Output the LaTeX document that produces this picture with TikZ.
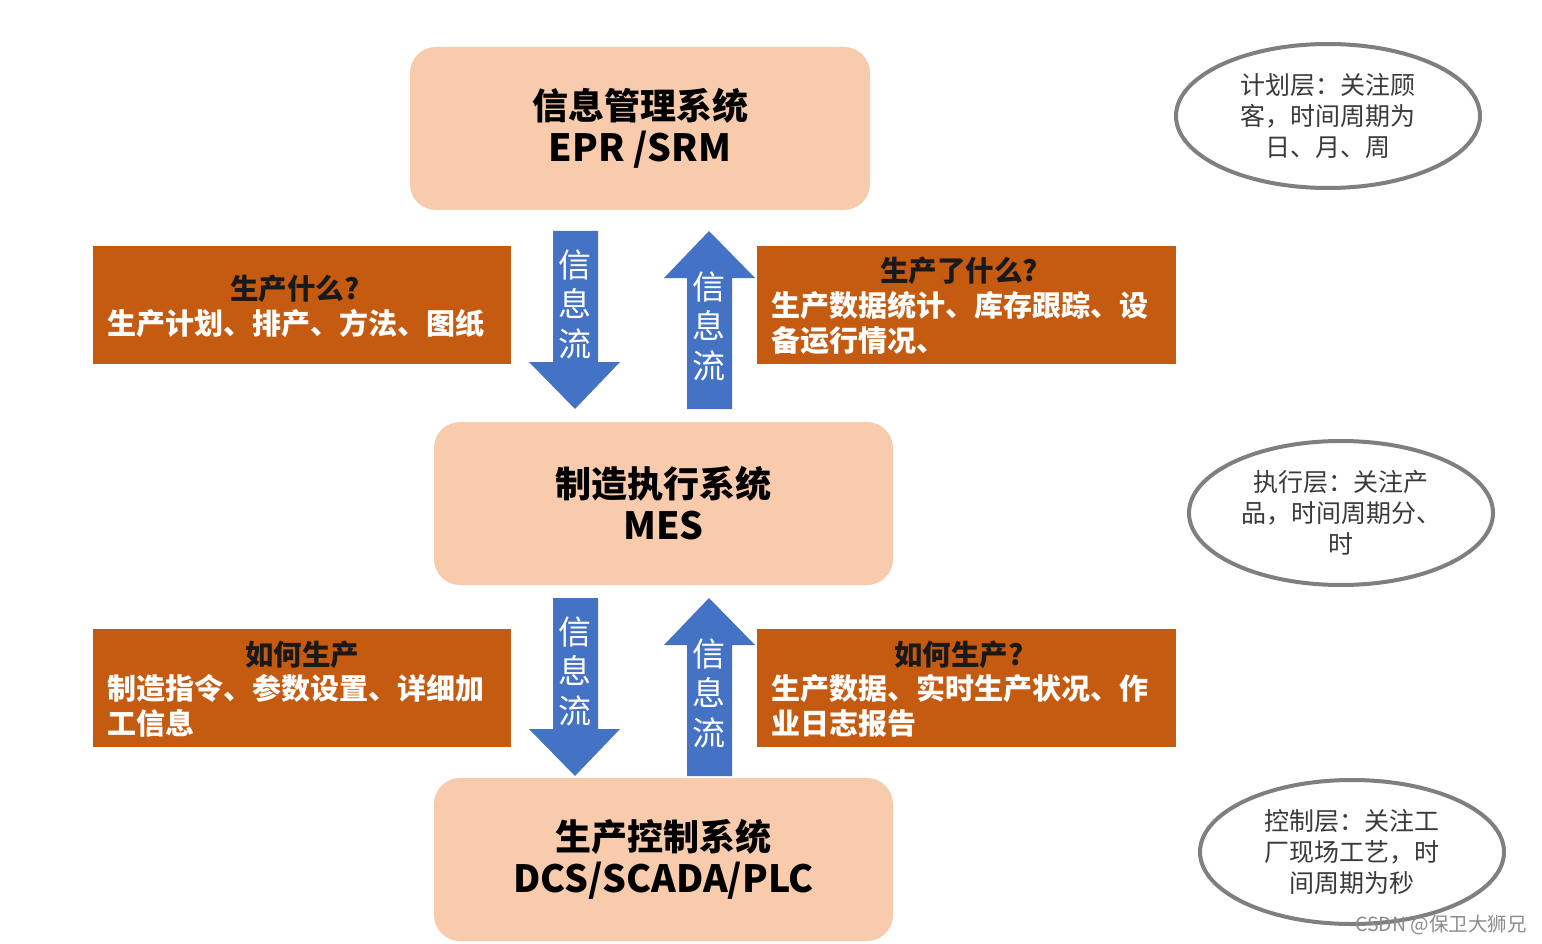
\documentclass[tikz,border=0pt]{standalone}
\usepackage{fontspec}
\setmainfont{Noto Sans CJK SC}
\usetikzlibrary{shapes.geometric}
\definecolor{peach}{HTML}{F8CBAD}
\definecolor{rust}{HTML}{C55A11}
\definecolor{flowblue}{HTML}{4472C4}
\definecolor{ringgray}{HTML}{7F7F7F}
\definecolor{ringtext}{HTML}{3A3A3A}
\newcommand{\latinline}[1]{{\fontsize{37.5}{42}\selectfont #1}}
\begin{document}
\begin{tikzpicture}[x=1pt,y=-1pt,
  sysbox/.style={draw=none,fill=peach,rounded corners=26pt,minimum width=460pt,minimum height=163pt,inner sep=0pt,
    align=center,font=\fontsize{36}{42}\selectfont\bfseries,text=black},
  infobox/.style={draw=none,fill=rust,minimum width=418pt,minimum height=118pt,inner sep=0pt},
  infohead/.style={inner sep=0pt,font=\fontsize{28.5}{35}\selectfont\bfseries,text=black!90,anchor=center},
  infobody/.style={inner sep=0pt,font=\fontsize{29}{35}\selectfont\bfseries,text=white,anchor=west,align=left},
  flowtext/.style={inner sep=0pt,align=center,font=\fontsize{33}{39.5}\selectfont,text=white},
  ring/.style={draw=ringgray,line width=4pt,ellipse,minimum width=304pt,minimum height=144pt,inner sep=0pt,
    align=center,font=\fontsize{25}{31}\selectfont,text=ringtext},
  arrowfill/.style={fill=flowblue,draw=none}
]
\useasboundingbox (0,0) rectangle (1542,944);
\fill[white] (0,0) rectangle (1542,944);

% system boxes
\node[sysbox] (erp) at (640,128.5) {信息管理系统\\\latinline{EPR /SRM}};
\node[sysbox,minimum width=459pt] (mes) at (663.5,503.5) {制造执行系统\\\latinline{MES}};
\node[sysbox,minimum width=459pt] (dcs) at (663.5,859.5) {生产控制系统\\\latinline{DCS/SCADA/PLC}};

% info boxes
\node[infobox] (ql1) at (302,305) {};
\node[infohead] (hl1) at (295,289) {生产什么?};
\node[infobody] (bl1) at (107,323) {生产计划、排产、方法、图纸};

\node[infobox,minimum width=419pt] (qr1) at (966.5,305) {};
\node[infohead] (hr1) at (959,271) {生产了什么?};
\node[infobody] (br1) at (771,323.5) {生产数据统计、库存跟踪、设\\备运行情况、};

\node[infobox] (ql2) at (302,687.5) {};
\node[infohead] (hl2) at (302,655) {如何生产};
\node[infobody] (bl2) at (107,706) {制造指令、参数设置、详细加\\工信息};

\node[infobox,minimum width=419pt] (qr2) at (966.5,687.5) {};
\node[infohead] (hr2) at (959,655) {如何生产?};
\node[infobody] (br2) at (771,706) {生产数据、实时生产状况、作\\业日志报告};

% arrows (upper pair)
\fill[arrowfill] (553,231) -- (598,231) -- (598,362) -- (620,362) -- (575,409) -- (529,362) -- (553,362) -- cycle;
\node[flowtext] (fd1) at (575,304) {信\\息\\流};
\fill[arrowfill] (687,409) -- (732,409) -- (732,278) -- (755,278) -- (709,231) -- (664,278) -- (687,278) -- cycle;
\node[flowtext] (fu1) at (709,326) {信\\息\\流};

% arrows (lower pair)
\fill[arrowfill] (553,598) -- (598,598) -- (598,729) -- (620,729) -- (575,776) -- (529,729) -- (553,729) -- cycle;
\node[flowtext] (fd2) at (575,671) {信\\息\\流};
\fill[arrowfill] (687,776) -- (732,776) -- (732,645) -- (755,645) -- (709,598) -- (664,645) -- (687,645) -- cycle;
\node[flowtext] (fu2) at (709,693) {信\\息\\流};

% layer ellipses
\node[ring] (plan) at (1328,116) {计划层：关注顾\\客，时间周期为\\日、月、周};
\node[ring] (exec) at (1341,513) {执行层：关注产\\品，时间周期分、\\时};
\node[ring] (ctrl) at (1352,852) {控制层：关注工\\厂现场工艺，时\\间周期为秒};

% watermark
\node[inner sep=0pt,font=\fontsize{19.5}{21}\selectfont,text=black!45,anchor=east] (wm) at (1527,925) {CSDN @保卫大狮兄};
\end{tikzpicture}
\end{document}
